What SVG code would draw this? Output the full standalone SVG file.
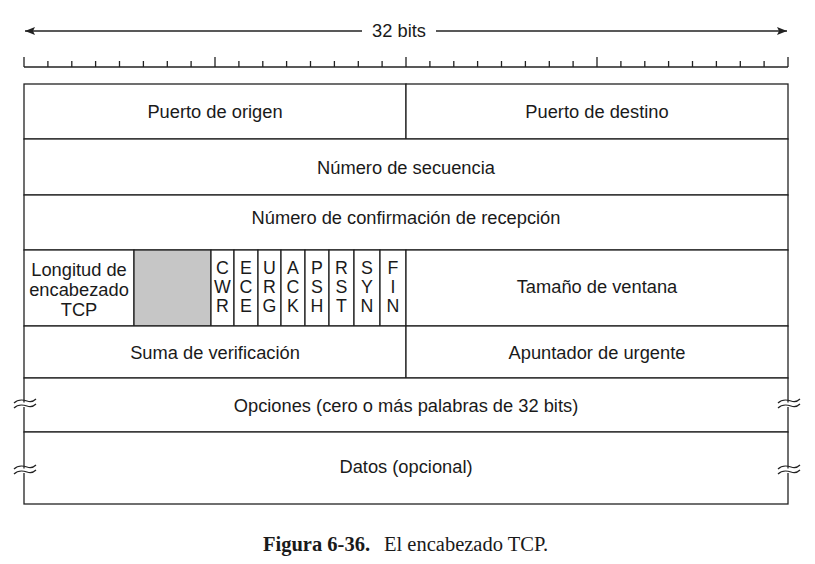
<svg xmlns="http://www.w3.org/2000/svg" width="815" height="564" viewBox="0 0 815 564">
<style>
.ln{stroke:#222;stroke-width:1.3;fill:none}
.cell{fill:#fff;stroke:#222;stroke-width:1.3}
.t{font-family:"Liberation Sans",Arial,sans-serif;font-size:18.3px;fill:#1a1a1a;text-anchor:middle}
.f{font-family:"Liberation Sans",Arial,sans-serif;font-size:17.8px;fill:#1a1a1a;text-anchor:middle}
.cap{font-family:"Liberation Serif","Times New Roman",serif;font-size:20.5px;fill:#1a1a1a}
.brk{stroke:#222;stroke-width:1.2;fill:none}
</style>
<defs>
<marker id="ah" viewBox="0 0 10 8" refX="10" refY="4" markerWidth="10" markerHeight="8" markerUnits="userSpaceOnUse" orient="auto">
<path d="M0,0 L10,4 L0,8 L2,4 Z" fill="#222"/>
</marker>
</defs>

<g id="scale">
<line class="ln" x1="362" y1="31" x2="25" y2="31" marker-end="url(#ah)"/>
<line class="ln" x1="436" y1="31" x2="787" y2="31" marker-end="url(#ah)"/>
<text class="t" x="399" y="37">32 bits</text>
<line class="ln" x1="24" y1="67" x2="788" y2="67"/>
<path class="ln" d="M24,57V67 M47.9,61V67 M71.8,61V67 M95.6,61V67 M119.5,61V67 M143.4,61V67 M167.3,61V67 M191.1,61V67 M215,57V67 M238.9,61V67 M262.8,61V67 M286.6,61V67 M310.5,61V67 M334.4,61V67 M358.3,61V67 M382.1,61V67 M406,57V67 M429.9,61V67 M453.8,61V67 M477.6,61V67 M501.5,61V67 M525.4,61V67 M549.3,61V67 M573.1,61V67 M597,57V67 M620.9,61V67 M644.8,61V67 M668.6,61V67 M692.5,61V67 M716.4,61V67 M740.3,61V67 M764.1,61V67 M788,57V67"/>
</g>

<g id="puerto-origen"><rect class="cell" x="24" y="84" width="382" height="55"/><text class="t" x="215" y="118">Puerto de origen</text></g>
<g id="puerto-destino"><rect class="cell" x="406" y="84" width="382" height="55"/><text class="t" x="597" y="118">Puerto de destino</text></g>
<g id="numero-secuencia"><rect class="cell" x="24" y="139" width="764" height="56"/><text class="t" x="406" y="173.5">Número de secuencia</text></g>
<g id="numero-confirmacion"><rect class="cell" x="24" y="195" width="764" height="55"/><text class="t" x="406" y="224">Número de confirmación de recepción</text></g>

<g id="longitud-encabezado"><rect class="cell" x="24" y="250" width="110" height="76"/>
<text class="t" x="79" y="276">Longitud de</text><text class="t" x="79" y="296">encabezado</text><text class="t" x="79" y="316">TCP</text></g>
<g id="reservado"><rect x="134" y="250" width="77" height="76" fill="#c6c6c6" stroke="#222" stroke-width="1.3"/></g>
<g id="flag-cwr"><rect class="cell" x="211" y="250" width="23" height="76"/><text class="f" x="222.5" y="274">C</text><text class="f" x="222.5" y="293">W</text><text class="f" x="222.5" y="312">R</text></g>
<g id="flag-ece"><rect class="cell" x="234" y="250" width="24" height="76"/><text class="f" x="246" y="274">E</text><text class="f" x="246" y="293">C</text><text class="f" x="246" y="312">E</text></g>
<g id="flag-urg"><rect class="cell" x="258" y="250" width="23" height="76"/><text class="f" x="269.5" y="274">U</text><text class="f" x="269.5" y="293">R</text><text class="f" x="269.5" y="312">G</text></g>
<g id="flag-ack"><rect class="cell" x="281" y="250" width="24" height="76"/><text class="f" x="293" y="274">A</text><text class="f" x="293" y="293">C</text><text class="f" x="293" y="312">K</text></g>
<g id="flag-psh"><rect class="cell" x="305" y="250" width="24" height="76"/><text class="f" x="317" y="274">P</text><text class="f" x="317" y="293">S</text><text class="f" x="317" y="312">H</text></g>
<g id="flag-rst"><rect class="cell" x="329" y="250" width="25" height="76"/><text class="f" x="341.5" y="274">R</text><text class="f" x="341.5" y="293">S</text><text class="f" x="341.5" y="312">T</text></g>
<g id="flag-syn"><rect class="cell" x="354" y="250" width="26" height="76"/><text class="f" x="367" y="274">S</text><text class="f" x="367" y="293">Y</text><text class="f" x="367" y="312">N</text></g>
<g id="flag-fin"><rect class="cell" x="380" y="250" width="26" height="76"/><text class="f" x="393" y="274">F</text><text class="f" x="393" y="293">I</text><text class="f" x="393" y="312">N</text></g>
<g id="tamano-ventana"><rect class="cell" x="406" y="250" width="382" height="76"/><text class="t" x="597" y="292.5">Tamaño de ventana</text></g>

<g id="suma-verificacion"><rect class="cell" x="24" y="326" width="382" height="52"/><text class="t" x="215" y="358.5">Suma de verificación</text></g>
<g id="apuntador-urgente"><rect class="cell" x="406" y="326" width="382" height="52"/><text class="t" x="597" y="358.5">Apuntador de urgente</text></g>
<g id="opciones"><rect class="cell" x="24" y="378" width="764" height="54"/><text class="t" x="406" y="411.5">Opciones (cero o más palabras de 32 bits)</text></g>
<g id="datos"><rect class="cell" x="24" y="432" width="764" height="72"/><text class="t" x="406" y="472.5">Datos (opcional)</text></g>

<g id="breaks">
<rect x="20" y="402.5" width="8" height="4.5" fill="#fff"/>
<rect x="784" y="402.5" width="8" height="4.5" fill="#fff"/>
<rect x="20" y="468.5" width="8" height="4.5" fill="#fff"/>
<rect x="784" y="468.5" width="8" height="4.5" fill="#fff"/>
<path class="brk" d="M14,403 C18,399 24,400 27,401 S33,402 36,399 M14,408 C18,404 24,405 27,406 S33,407 36,404"/>
<path class="brk" d="M778,403 C782,399 788,400 791,401 S797,402 800,399 M778,408 C782,404 788,405 791,406 S797,407 800,404"/>
<path class="brk" d="M14,469 C18,465 24,466 27,467 S33,468 36,465 M14,474 C18,470 24,471 27,472 S33,473 36,470"/>
<path class="brk" d="M778,469 C782,465 788,466 791,467 S797,468 800,465 M778,474 C782,470 788,471 791,472 S797,473 800,470"/>
</g>

<text class="cap" x="263" y="551"><tspan font-weight="bold">Figura 6-36.</tspan><tspan x="384">El encabezado TCP.</tspan></text>
</svg>
